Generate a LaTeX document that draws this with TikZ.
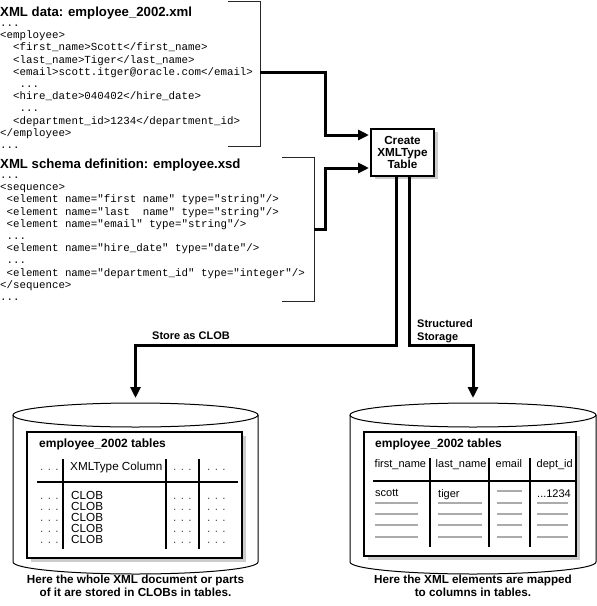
\documentclass[tikz,border=0pt]{standalone}
\usepackage{fontspec}
\setmainfont{Liberation Sans}
\setsansfont{Liberation Sans}
\setmonofont{Liberation Mono}
\usetikzlibrary{arrows.meta}
\newcommand\mycode{\ttfamily\fontsize{10.8}{12}\selectfont}
\newcommand\mybold{\sffamily\bfseries\fontsize{11}{12}\selectfont}
\newcommand\mytitle{\sffamily\bfseries\fontsize{13.2}{14}\selectfont}
\newcommand\mytabtitle{\sffamily\bfseries\fontsize{12}{13}\selectfont}
\newcommand\mycap{\sffamily\bfseries\fontsize{11.7}{13}\selectfont}
\newcommand\mytab{\sffamily\fontsize{11.7}{12}\selectfont}
\newcommand\mytabs{\sffamily\fontsize{11}{12}\selectfont}
\begin{document}
\begin{tikzpicture}[x=1pt,y=-1pt,
 code/.style={anchor=base west,inner sep=0pt,font=\mycode},
 btxt/.style={anchor=base west,inner sep=0pt,font=\mybold},
 ttl/.style={anchor=base west,inner sep=0pt,font=\mytitle},
 tabttl/.style={anchor=base west,inner sep=0pt,font=\mytabtitle},
 ttxt/.style={anchor=base west,inner sep=0pt,font=\mytab},
 ttxs/.style={anchor=base west,inner sep=0pt,font=\mytabs},
 captxt/.style={anchor=base,inner sep=0pt,font=\mycap},
 brk/.style={line width=0.8pt,black!85},
 flow/.style={line width=3pt,line join=miter},
 flowarr/.style={flow,-{Triangle[length=11pt,width=10pt]}},
 tline/.style={line width=1.3pt},
 gline/.style={line width=2.5pt,black!33},
 dots/.style={ttxt,black!70},
 shadow/.style={fill=black!20}
]
\useasboundingbox (0,0) rectangle (597,606);

% ---------- block 1 ----------
\node[ttl] (t1) at (0,16.5) {XML data: employee\_2002.xml};
\node[code] (a0) at (0,26.5) {...};
\node[code] (a1) at (0,38.7) {<employee>};
\node[code] (a2) at (13,50.9) {<first\_name>Scott</first\_name>};
\node[code] (a3) at (13,63.1) {<last\_name>Tiger</last\_name>};
\node[code] (a4) at (13,75.3) {<email>scott.itger@oracle.com</email>};
\node[code] (a5) at (19.5,87.5) {...};
\node[code] (a6) at (13,99.7) {<hire\_date>040402</hire\_date>};
\node[code] (a7) at (19.5,111.9) {...};
\node[code] (a8) at (13,124.1) {<department\_id>1234</department\_id>};
\node[code] (a9) at (0,136.3) {</employee>};
\node[code] (a10) at (0,148.5) {...};
\draw[brk] (228,1) -- (260,1) -- (260,146) -- (228,146);
\coordinate (b1) at (260,72);

% ---------- block 2 ----------
\node[ttl] (t2) at (0,168) {XML schema definition: employee.xsd};
\node[code] (s0) at (0,178.5) {...};
\node[code] (s1) at (0,190.7) {<sequence>};
\node[code] (s2) at (6.5,202.9) {<element name="first name" type="string"/>};
\node[code] (s3) at (6.5,215.1) {<element name="last\ \ name" type="string"/>};
\node[code] (s4) at (6.5,227.3) {<element name="email" type="string"/>};
\node[code] (s5) at (6.5,239.5) {...};
\node[code] (s6) at (6.5,251.7) {<element name="hire\_date" type="date"/>};
\node[code] (s7) at (6.5,263.9) {...};
\node[code] (s8) at (6.5,276.1) {<element name="department\_id" type="integer"/>};
\node[code] (s9) at (0,288.3) {</sequence>};
\node[code] (s10) at (0,300.5) {...};
\draw[brk] (282,157) -- (314,157) -- (314,301) -- (282,301);
\coordinate (b2) at (314,229);

% ---------- create box ----------
\fill[shadow] (374.5,132) rectangle (437.5,179);
\node[draw,line width=1.2pt,fill=white,minimum width=63pt,minimum height=47pt,
      inner sep=0pt,align=center,font=\sffamily\bfseries\fontsize{11.7}{12}\selectfont] (ct) at (402.5,152.5) {Create\\XMLType\\Table};
\coordinate (e1) at (369,135);
\coordinate (e2) at (369,168);
\draw[flowarr] (b1) -- ++(65,0) |- (e1);
\draw[flowarr] (b2) -- ++(11,0) |- (e2);

% ---------- split ----------
\coordinate (jl) at (300,345);
\coordinate (jr) at (440,345);
\coordinate (tl) at (135.5,398);
\coordinate (tr) at (473,398);
\draw[flowarr] ([xshift=-6pt]ct.south) |- (jl) -| (tl);
\draw[flowarr] ([xshift=7pt]ct.south) |- (jr) -| (tr);
\node[btxt] (lab1) at (152,339) {Store as CLOB};
\node[btxt,align=left,anchor=north west,font=\sffamily\bfseries\fontsize{11}{13}\selectfont] (lab2) at (417,319) {Structured\\Storage};

% ---------- left cylinder ----------
\draw[line width=1pt] (13,415) -- (13,562) arc[start angle=180,end angle=360,x radius=122.5pt,y radius=12pt] -- (258,415);
\draw[line width=1pt] (135.5,415) ellipse [x radius=122.5pt,y radius=12pt];
\fill[shadow] (31,436) rectangle (246,562);
\draw[tline,fill=white] (27,432) rectangle (242,558);
\node[tabttl] (lt) at (39,447.5) {employee\_2002 tables};
\node[dots] (lh1) at (40,470) {. . .};
\node[ttxt] (lh2) at (70,470) {XMLType Column};
\node[dots] (lh3) at (173,470) {. . .};
\node[dots] (lh4) at (207,470) {. . .};
\draw[tline] (63,459) -- (63,549);
\draw[tline] (166,459) -- (166,549);
\draw[tline] (199,459) -- (199,549);
\draw[tline] (37,482) -- (238,482);
\foreach \yy in {499,510.2,521.4,532.6,543.8}{
  \node[dots] at (40,\yy) {. . .};
  \node[ttxt] at (71,\yy) {CLOB};
  \node[dots] at (173,\yy) {. . .};
  \node[dots] at (207,\yy) {. . .};
}
\node[captxt] (c1a) at (135.5,583) {Here the whole XML document or parts};
\node[captxt] (c1b) at (135.5,596) {of it are stored in CLOBs in tables.};

% ---------- right cylinder ----------
\draw[line width=1pt] (350,415) -- (350,562) arc[start angle=180,end angle=360,x radius=123pt,y radius=12pt] -- (596,415);
\draw[line width=1pt] (473,415) ellipse [x radius=123pt,y radius=12pt];
\fill[shadow] (368,436) rectangle (580,560);
\draw[tline,fill=white] (364,432) rectangle (576,556);
\node[tabttl] (rt) at (375,447.5) {employee\_2002 tables};
\node[ttxs] (rh1) at (374.5,467) {first\_name};
\node[ttxs] (rh2) at (435.5,467) {last\_name};
\node[ttxs] (rh3) at (495.5,467) {email};
\node[ttxs] (rh4) at (536.5,467) {dept\_id};
\draw[tline] (430,458) -- (430,547);
\draw[tline] (489,458) -- (489,547);
\draw[tline] (530,458) -- (530,547);
\draw[tline] (373,481) -- (575,481);
\node[ttxs] (rd1) at (375,496) {scott};
\node[ttxs] (rd2) at (438,497) {tiger};
\node[ttxs] (rd4) at (537,497) {...1234};
\draw[gline] (497,491) -- (522,491);
\foreach \yy in {503,514,525,537}{
  \draw[gline] (375,\yy) -- (418,\yy);
  \draw[gline] (438,\yy) -- (482,\yy);
  \draw[gline] (497,\yy) -- (522,\yy);
  \draw[gline] (537,\yy) -- (568,\yy);
}
\node[captxt] (c2a) at (473,583) {Here the XML elements are mapped};
\node[captxt] (c2b) at (473,596) {to columns in tables.};
\end{tikzpicture}
\end{document}
